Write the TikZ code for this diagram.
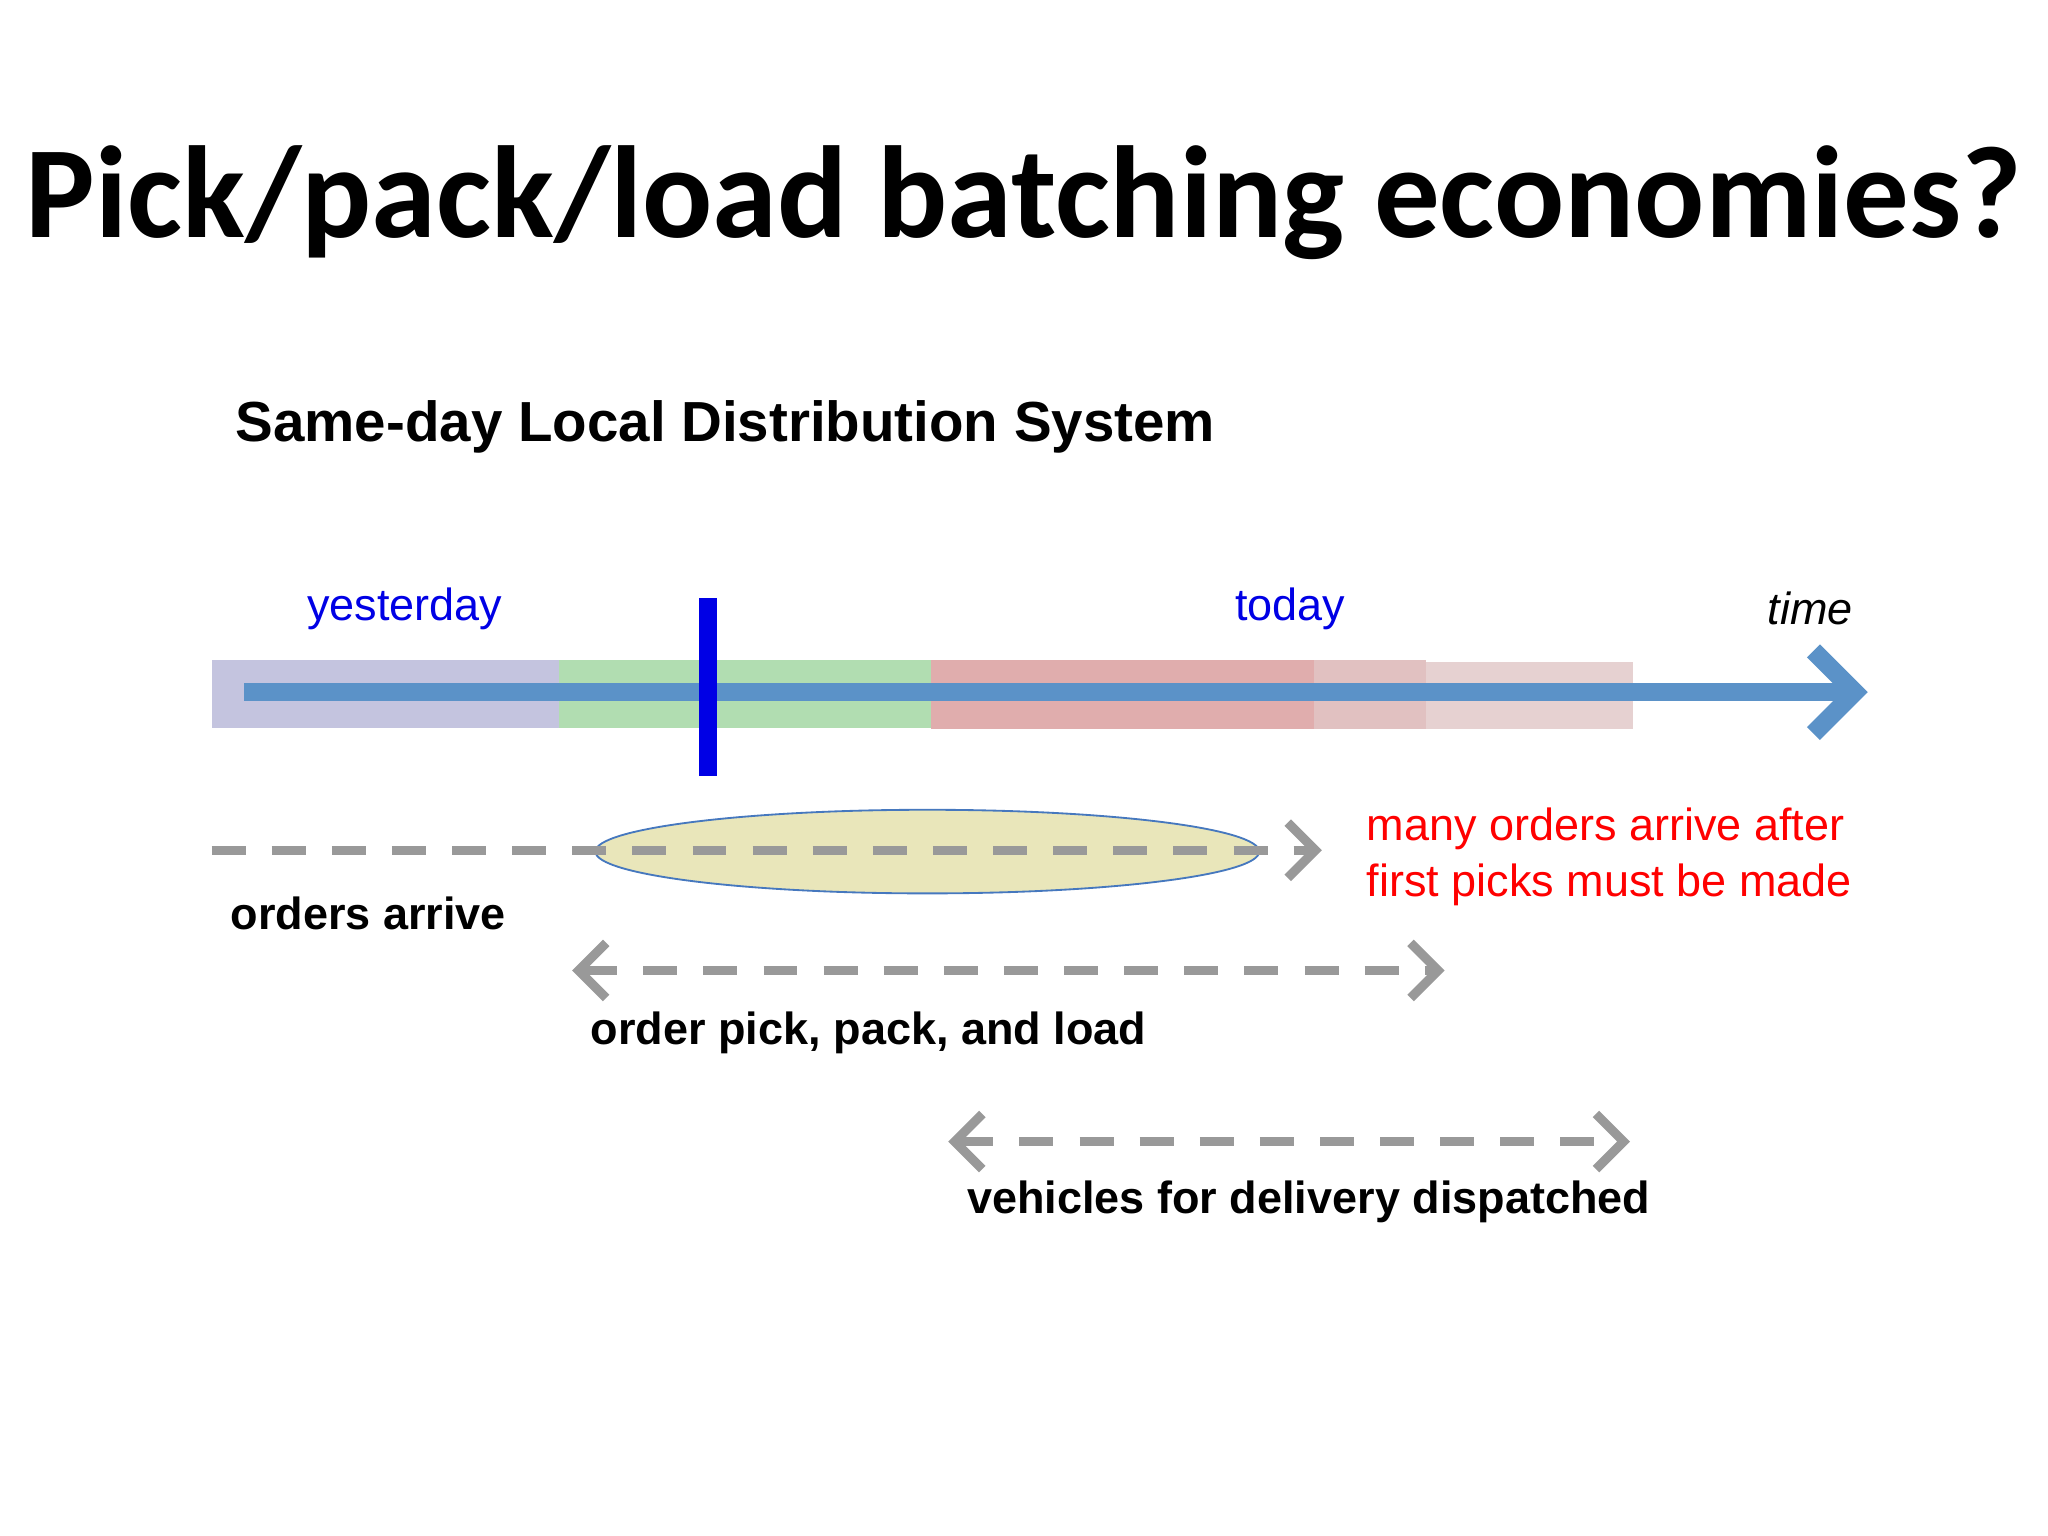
\documentclass[tikz,border=0pt]{standalone}
\usepackage{fontspec}
\setmainfont{Liberation Sans}
\newfontfamily\titlefont{Carlito}
\usetikzlibrary{arrows.meta,shapes.geometric}
\begin{document}
\begin{tikzpicture}[x=0.01cm,y=-0.01cm,
  lbl/.style={font=\fontsize{9.8}{12}\selectfont\bfseries,text=black},
  thin/.style={font=\fontsize{9.8}{12}\selectfont},
  gdash/.style={draw=gray!80,line width=2pt,dash pattern=on 0.26cm off 0.2cm},
  gtip/.tip={Straight Barb[length=6pt,width=12pt,line width=2pt]}]
\useasboundingbox (0,0) rectangle (1568,1176);
\node (title) at (784,155) {\titlefont\fontsize{28.5}{32}\selectfont\bfseries Pick/pack/load batching economies?};
\node[anchor=west,font=\fontsize{12.3}{14}\selectfont\bfseries] (sub) at (168,327) {Same-day Local Distribution System};
% bars
\fill[blue!30!gray!45,opacity=0.8] (162,505) rectangle (428,557);
\fill[green!40!gray!55,opacity=0.8] (428,505) rectangle (713,557);
\fill[red!45!gray!55,opacity=0.8] (713,505) rectangle (1006,558);
\fill[red!35!gray!45,opacity=0.8] (1006,505) rectangle (1092,558);
\fill[red!30!gray!35,opacity=0.8] (1092,507) rectangle (1250,558);
\coordinate (t0) at (187,530);
\coordinate (t1) at (1430,530);
\draw[draw={rgb,255:red,91;green,146;blue,200},line width=4pt,-{Straight Barb[length=9pt,width=18pt,line width=4pt]}] (t0) -- (t1);
\coordinate (b0) at (542,458); \coordinate (b1) at (542,594);
\draw[blue!90!black,line width=4pt] (b0) -- (b1);
\node[thin,text=blue!90!black] (y) at (310,466) {yesterday};
\node[thin,text=blue!90!black] (td) at (988,466) {today};
\node[thin,font=\fontsize{9.8}{12}\selectfont\itshape] (tm) at (1386,466) {time};
% ellipse
\node[draw={rgb,255:red,70;green,120;blue,190},fill=yellow!50!gray!40,ellipse,minimum width=5.08cm,minimum height=0.64cm,inner sep=0pt] (ell) at (710,652) {};
\coordinate (o0) at (162,651); \coordinate (o1) at (1012,651);
\draw[gdash,-gtip] (o0) -- (o1);
\node[anchor=west,align=left,font=\fontsize{9.8}{12.3}\selectfont,text=red] (red) at (1034,656) {many orders arrive after\\first picks must be made};
\node[lbl] (oa) at (282,699) {orders arrive};
\coordinate (p0) at (438,743); \coordinate (p1) at (1106,743);
\draw[gdash,gtip-gtip] (p0) -- (p1);
\node[lbl] (pl) at (665,791) {order pick, pack, and load};
\coordinate (v0) at (726,874); \coordinate (v1) at (1248,874);
\draw[gdash,gtip-gtip] (v0) -- (v1);
\node[lbl] (vl) at (1002,920) {vehicles for delivery dispatched};
\end{tikzpicture}
\end{document}
